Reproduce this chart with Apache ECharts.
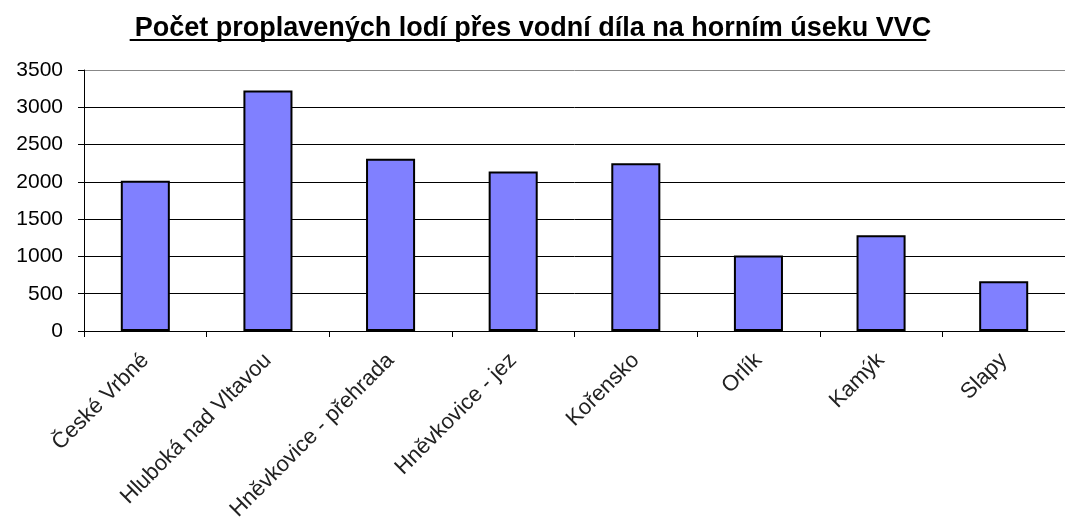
<!DOCTYPE html>
<html>
<head>
<meta charset="utf-8">
<script src="https://cdn.jsdelivr.net/npm/echarts@6/dist/echarts.min.js"></script>
<style>
  html, body { margin: 0; padding: 0; background: #fff; }
  #chart { width: 1065px; height: 527px; }
</style>
</head>
<body>
<div id="chart"></div>
<script>
const titleText = "Počet proplavených lodí přes vodní díla na horním úseku VVC";
const locks = ["České Vrbné", "Hluboká nad Vltavou", "Hněvkovice - přehrada", "Hněvkovice - jez", "Kořensko", "Orlík", "Kamýk", "Slapy"];
const ships = [2015, 3225, 2310, 2140, 2248, 1012, 1285, 668];

const chart = echarts.init(document.getElementById("chart"));

// measure title so the underline matches it
const fontFam = "'Liberation Sans', Arial, sans-serif";
const ctx = document.createElement("canvas").getContext("2d");
ctx.font = "bold 27px " + fontFam;
const titleW = ctx.measureText(titleText).width;
const titleX = 528;

const options = {
  animation: false,
  textStyle: { fontFamily: fontFam },
  title: {
    text: titleText,
    left: titleX,
    top: 10,
    textAlign: "center",
    textStyle: { fontSize: 27, fontWeight: "bold", color: "#000", fontFamily: fontFam },
  },
  graphic: [
    {
      type: "line",
      shape: { x1: titleX - titleW / 2, y1: 40, x2: titleX + titleW / 2, y2: 40 },
      style: { stroke: "#000", lineWidth: 2 },
    },
  ],
  grid: { left: 84, right: 0, top: 70, bottom: 196 },
  xAxis: {
    type: "category",
    data: locks,
    axisLine: { lineStyle: { color: "#000", width: 1 } },
    axisTick: { show: true, length: 6, lineStyle: { color: "#000" } },
    axisLabel: { rotate: 45, fontSize: 22, color: "#222", margin: 26, interval: 0 },
  },
  yAxis: {
    type: "value",
    min: 0,
    max: 3500,
    interval: 500,
    axisLine: { show: true, lineStyle: { color: "#000", width: 1 } },
    axisTick: { show: true, length: 6, lineStyle: { color: "#000" } },
    axisLabel: { fontSize: 21, color: "#000", margin: 21, formatter: (v) => String(v) },
    splitLine: { lineStyle: { color: ["#000", "#000", "#000", "#000", "#000", "#000", "#000", "#888"], width: 1 } },
  },
  series: [
    {
      name: "Počet lodí",
      type: "bar",
      data: ships,
      barWidth: "40%",
      itemStyle: { color: "#8080FF", borderColor: "#000", borderWidth: 2 },
    },
  ],
};

chart.setOption(options);
</script>
</body>
</html>
